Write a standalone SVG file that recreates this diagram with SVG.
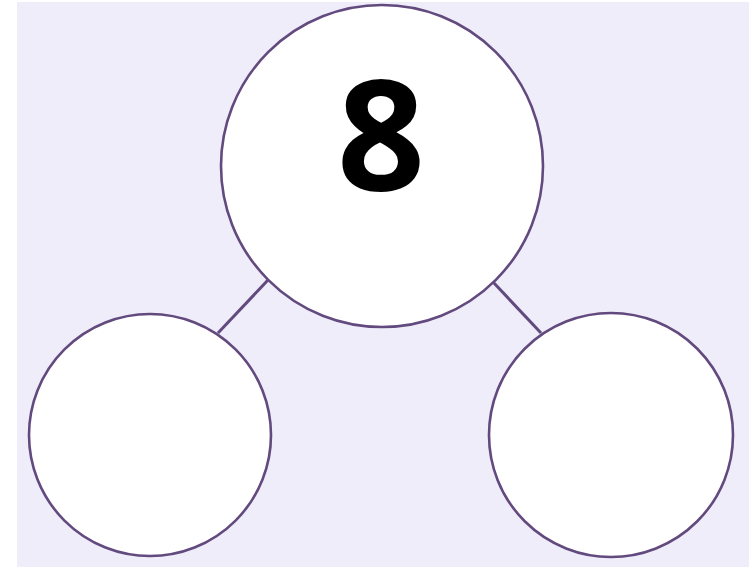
<svg xmlns="http://www.w3.org/2000/svg" width="749" height="567" viewBox="0 0 749 567">
<style>
.node{fill:#ffffff;stroke:#634a7e;stroke-width:2.6}
.conn{stroke:#634a7e;stroke-width:3;fill:none}
.num{font-family:"Open Sans","Liberation Sans",sans-serif;font-weight:bold;font-size:154px;fill:#000;text-anchor:middle}
</style>
<rect x="0" y="0" width="749" height="567" fill="#ffffff"/>
<rect x="17" y="2" width="732" height="565" fill="#eeedf9"/>
<g id="connectors">
<line class="conn" x1="268" y1="280" x2="218" y2="333"/>
<line class="conn" x1="493" y1="282" x2="541" y2="333"/>
</g>
<g id="whole">
<circle class="node" cx="382" cy="166" r="161"/>
<text class="num" x="381" y="190">8</text>
</g>
<g id="part-left">
<circle class="node" cx="150" cy="435" r="121"/>
</g>
<g id="part-right">
<circle class="node" cx="611" cy="435" r="122"/>
</g>
</svg>
